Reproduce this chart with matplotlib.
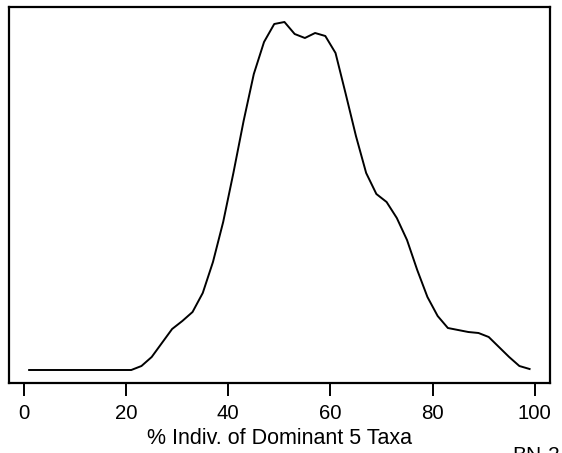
# densidade - % individuos dos 5 taxa dominantes
import matplotlib.pyplot as plt

plt.rcParams['font.family'] = ['Liberation Sans', 'DejaVu Sans']

pct = [1, 3, 5, 7, 9, 11, 13, 15, 17, 19, 21, 23, 25, 27, 29, 31, 33, 35, 37, 39,
       41, 43, 45, 47, 49, 51, 53, 55, 57, 59, 61, 63, 65, 67, 69, 71, 73, 75, 77, 79,
       81, 83, 85, 87, 89, 91, 93, 95, 97, 99]
dens = [0, 0, 0, 0, 0, 0, 0, 0, 0, 0,
        0, 0.0004, 0.0013, 0.0027, 0.0041, 0.0049, 0.0058, 0.0077, 0.0108, 0.0148,
        0.0197, 0.0249, 0.0296, 0.0328, 0.0346, 0.0348, 0.0336, 0.0332, 0.0337, 0.0334,
        0.0317, 0.0276, 0.0234, 0.0197, 0.0176, 0.0168, 0.0152, 0.0130, 0.0100, 0.0073,
        0.0054, 0.0042, 0.0040, 0.0038, 0.0037, 0.0033, 0.0023, 0.0013, 0.0004, 0.0001]
ticks = [0, 20, 40, 60, 80, 100]

fig = plt.figure(figsize=(5.62, 4.53), dpi=100)
ax = fig.add_axes([9 / 562, 70 / 453, 541 / 562, 376 / 453])

ax.plot(pct, dens, color='black', lw=1.4)
ax.set_xlim(-2.94, 103.0)
ax.set_ylim(-0.0013, 0.0363)

for s in ax.spines.values():
    s.set_linewidth(1.6)
ax.set_xticks(ticks)
ax.set_yticks([])
ax.tick_params(axis='x', length=9.5, width=1.4, pad=5.5, labelsize=14.7)
ax.set_xlabel('% Indiv. of Dominant 5 Taxa', fontsize=15.5, labelpad=4)

fig.text(512 / 562, 1 - 446 / 453, 'BN-2', fontsize=15, va='top', ha='left')

plt.savefig('out.png', dpi=100)
